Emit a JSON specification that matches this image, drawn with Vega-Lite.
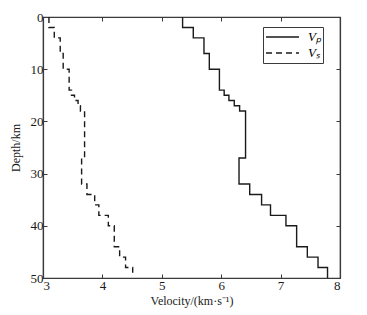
{
  "$schema": "https://vega.github.io/schema/vega-lite/v6.json",
  "autosize": "none",
  "width": 297,
  "height": 261,
  "padding": {"left": 43, "top": 17, "right": 27, "bottom": 37},
  "background": "white",
  "config": {
    "font": "Liberation Serif",
    "view": {"stroke": "#3a3a3a", "strokeWidth": 1.2},
    "axis": {
      "domainColor": "#3a3a3a", "domainWidth": 1.2, "tickColor": "#3a3a3a", "tickSize": -4,
      "labelFont": "Liberation Serif", "labelFontSize": 13, "labelColor": "#1a1a1a",
      "titleFont": "Liberation Serif", "titleFontSize": 12, "titleFontWeight": "normal", "titleColor": "#1a1a1a",
      "grid": false
    },
    "legend": {"labelFont": "Liberation Serif", "titleFont": "Liberation Serif"}
  },
  "data": {
    "values": [
      {"wave": "Vp", "v": 5.35, "depth": 0},
      {"wave": "Vp", "v": 5.53, "depth": 2},
      {"wave": "Vp", "v": 5.71, "depth": 4},
      {"wave": "Vp", "v": 5.80, "depth": 7},
      {"wave": "Vp", "v": 5.97, "depth": 10},
      {"wave": "Vp", "v": 6.05, "depth": 14},
      {"wave": "Vp", "v": 6.13, "depth": 15},
      {"wave": "Vp", "v": 6.22, "depth": 16},
      {"wave": "Vp", "v": 6.31, "depth": 17},
      {"wave": "Vp", "v": 6.41, "depth": 18},
      {"wave": "Vp", "v": 6.30, "depth": 27},
      {"wave": "Vp", "v": 6.48, "depth": 32},
      {"wave": "Vp", "v": 6.68, "depth": 34},
      {"wave": "Vp", "v": 6.83, "depth": 36},
      {"wave": "Vp", "v": 7.09, "depth": 38},
      {"wave": "Vp", "v": 7.27, "depth": 40},
      {"wave": "Vp", "v": 7.45, "depth": 44},
      {"wave": "Vp", "v": 7.63, "depth": 46},
      {"wave": "Vp", "v": 7.79, "depth": 48},
      {"wave": "Vp", "v": 7.79, "depth": 50},
      {"wave": "Vs", "v": 3.10, "depth": 0},
      {"wave": "Vs", "v": 3.19, "depth": 2},
      {"wave": "Vs", "v": 3.29, "depth": 4},
      {"wave": "Vs", "v": 3.34, "depth": 7},
      {"wave": "Vs", "v": 3.44, "depth": 10},
      {"wave": "Vs", "v": 3.48, "depth": 14},
      {"wave": "Vs", "v": 3.53, "depth": 15},
      {"wave": "Vs", "v": 3.59, "depth": 16},
      {"wave": "Vs", "v": 3.63, "depth": 17},
      {"wave": "Vs", "v": 3.70, "depth": 18},
      {"wave": "Vs", "v": 3.65, "depth": 27},
      {"wave": "Vs", "v": 3.74, "depth": 32},
      {"wave": "Vs", "v": 3.87, "depth": 34},
      {"wave": "Vs", "v": 3.94, "depth": 36},
      {"wave": "Vs", "v": 4.10, "depth": 38},
      {"wave": "Vs", "v": 4.20, "depth": 40},
      {"wave": "Vs", "v": 4.29, "depth": 44},
      {"wave": "Vs", "v": 4.39, "depth": 46},
      {"wave": "Vs", "v": 4.51, "depth": 48},
      {"wave": "Vs", "v": 4.51, "depth": 49}
    ]
  },
  "layer": [
    {
      "mark": {"type": "line", "interpolate": "step-before", "strokeWidth": 1.4, "clip": true},
      "encoding": {
        "x": {"field": "v", "type": "quantitative", "scale": {"domain": [3, 8], "nice": false, "zero": false},
              "axis": {"values": [3, 4, 5, 6, 7, 8], "title": "Velocity/(km·s⁻¹)", "titlePadding": 3, "labelPadding": 5}},
        "y": {"field": "depth", "type": "quantitative", "scale": {"domain": [0, 50], "reverse": true, "nice": false},
              "axis": {"values": [0, 10, 20, 30, 40, 50], "title": "Depth/km", "titlePadding": 8, "labelPadding": 4}},
        "order": {"field": "depth", "type": "quantitative"},
        "color": {"field": "wave", "type": "nominal", "scale": {"domain": ["Vp", "Vs"], "range": ["#1a1a1a", "#1a1a1a"]},
                  "legend": {"title": null, "orient": "none", "legendX": 220, "legendY": 10,
                             "labelExpr": "datum.value == 'Vp' ? 'Vₚ' : 'Vₛ'",
                             "labelFont": "Liberation Serif", "labelFontSize": 13, "labelFontStyle": "italic",
                             "symbolType": "stroke", "symbolSize": 1089, "symbolStrokeWidth": 1.4,
                             "clipHeight": 16, "rowPadding": 0,
                             "strokeColor": "#3a3a3a", "padding": 2, "labelOffset": 8, "fillColor": "white"}},
        "strokeDash": {"field": "wave", "type": "nominal", "scale": {"domain": ["Vp", "Vs"], "range": [[1, 0], [6, 4]]},
                  "legend": {"title": null, "orient": "none", "legendX": 220, "legendY": 10,
                             "labelExpr": "datum.value == 'Vp' ? 'Vₚ' : 'Vₛ'",
                             "labelFont": "Liberation Serif", "labelFontSize": 13, "labelFontStyle": "italic",
                             "symbolType": "stroke", "symbolSize": 1089, "symbolStrokeWidth": 1.4,
                             "clipHeight": 16, "rowPadding": 0,
                             "strokeColor": "#3a3a3a", "padding": 2, "labelOffset": 8, "fillColor": "white"}}
      }
    },
    {
      "mark": {"type": "point", "opacity": 0},
      "encoding": {
        "x": {"field": "v", "type": "quantitative", "axis": {"orient": "top", "values": [3, 4, 5, 6, 7, 8], "labels": false, "title": null}},
        "y": {"field": "depth", "type": "quantitative", "axis": {"orient": "right", "values": [0, 10, 20, 30, 40, 50], "labels": false, "title": null}}
      }
    }
  ],
  "resolve": {"axis": {"x": "independent", "y": "independent"}}
}
